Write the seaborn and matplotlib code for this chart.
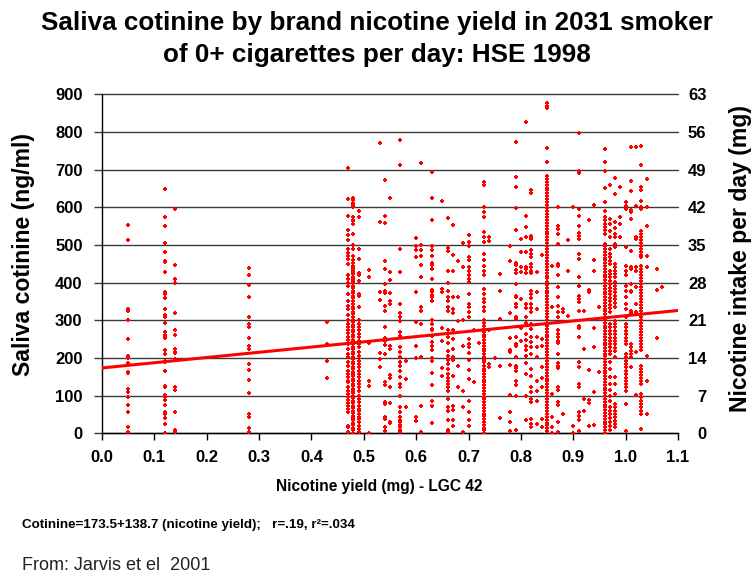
import matplotlib
matplotlib.use("Agg")
import matplotlib.pyplot as plt
import seaborn as sns
import numpy as np
import pandas as pd

# Saliva cotinine (ng/ml) for smokers, grouped by brand nicotine yield (mg)
c005 = [552, 513, 330, 326, 302, 250, 205, 201, 186, 163, 160, 117, 110, 97, 75, 57, 18, 3]
c012 = [649, 573, 551, 506, 481, 458, 455, 427, 375, 371, 358, 329, 314, 309, 292, 270, 261, 257,
        252, 221, 210, 192, 188, 166, 126, 122, 102, 97, 88, 75, 56, 52, 40, 24, 2]
c014 = [596, 446, 410, 400, 319, 273, 260, 223, 217, 212, 198, 122, 115, 57, 9, 4]
c028 = [440, 420, 394, 361, 309, 291, 281, 252, 232, 223, 185, 167, 141, 108, 50, 44, 13, 4]
c043 = [296, 236, 193, 146]
c047 = [704, 621, 578, 540, 527, 512, 490, 480, 470, 463, 450, 420, 410, 400, 392, 370, 352, 339,
        330, 315, 300, 290, 281, 273, 265, 255, 248, 237, 224, 211, 202, 188, 180, 166, 158, 149,
        140, 135, 122, 113, 104, 96, 88, 80, 73, 65, 56, 20, 16, 3]
c048 = [624, 619, 612, 605, 600, 575, 567, 563, 556, 530, 500, 490, 470, 460, 452, 445, 440, 434,
        428, 422, 415, 410, 404, 398, 392, 385, 378, 372, 365, 358, 350, 343, 336, 330, 322, 316,
        309, 301, 295, 288, 281, 275, 268, 262, 255, 249, 242, 236, 229, 223, 216, 210, 203, 197,
        190, 184, 177, 171, 164, 158, 151, 145, 138, 131, 125, 118, 112, 106, 99, 93, 86, 80, 73,
        67, 60, 54, 47, 41, 34, 28, 21, 15, 8, 2]
c049 = [590, 575, 490, 463, 425, 420, 405, 370, 365, 335, 300, 290, 281, 273, 264, 255, 246, 237,
        228, 215, 206, 193, 184, 175, 166, 158, 149, 140, 131, 122, 113, 100, 91, 82, 73, 64, 60,
        51, 44, 38, 29, 20, 12, 3]
c051 = [434, 415, 240, 138, 125, 0]
c053 = [770, 561, 374, 354, 214, 196, 177]
c054 = [673, 578, 557, 457, 436, 396, 377, 372, 339, 326, 281, 253, 246, 235, 211, 135, 127, 82,
        78, 44, 38, 16, 7]
c055 = [626, 427, 407, 372, 350, 343, 233, 224, 156, 147, 122, 80, 29, 27]
c057 = [780, 712, 490, 429, 342, 319, 308, 299, 268, 259, 228, 215, 202, 188, 180, 165, 150, 131,
        122, 100, 71, 56, 42, 35, 29, 23, 16, 9, 3]
c058 = [191, 144, 71]
c060 = [518, 496, 487, 469, 374, 296, 233, 200, 44, 32]
c061 = [717, 501, 487, 472, 448, 414, 335, 326, 290, 202, 73, 3]
c063 = [695, 625, 566, 498, 487, 470, 451, 448, 436, 410, 381, 374, 368, 361, 350, 301, 290, 277,
        273, 259, 242, 233, 221, 199, 191, 159, 127, 87, 73, 27]
c065 = [618, 383, 374, 280, 244, 173, 151]
c066 = [571, 492, 485, 430, 398, 379, 363, 350, 336, 324, 273, 255, 239, 219, 206, 195, 184, 171,
        158, 147, 138, 131, 122, 113, 91, 69, 58, 34, 9, 3]
c067 = [553, 473, 430, 363, 330, 319, 273, 250, 224, 202, 195, 153, 73, 62, 34, 20]
c068 = [458, 363, 299, 180, 122]
c069 = [504, 442, 301, 233, 113, 69, 3]
c070 = [527, 507, 498, 469, 460, 442, 432, 420, 410, 401, 370, 343, 335, 321, 310, 250, 237, 228,
        212, 195, 168, 144, 87, 56, 34, 20]
c071 = [273, 135]
c072 = [239]
c073 = [668, 658, 602, 587, 573, 534, 520, 507, 476, 460, 445, 432, 419, 383, 370, 357, 348, 336,
        326, 300, 292, 285, 278, 270, 262, 255, 248, 240, 232, 225, 218, 210, 202, 195, 188, 180,
        172, 165, 158, 150, 142, 135, 127, 120, 112, 105, 97, 90, 82, 75, 67, 60, 52, 45, 37, 30,
        22, 15, 8, 2]
c074 = [520, 510, 274, 184, 177]
c075 = [200]
c076 = [423, 379, 304, 180, 40]
c078 = [496, 458, 319, 253, 221, 215, 182, 102, 56, 29, 7]
c079 = [774, 681, 655, 597, 540, 451, 447, 434, 425, 396, 365, 361, 343, 336, 310, 304, 255, 237,
        233, 202, 180, 173, 166, 140, 127, 100, 9]
c080 = [516, 481, 441, 427, 357, 280, 246]
c081 = [827, 578, 547, 522, 481, 441, 436, 425, 343, 332, 308, 292, 264, 248, 233, 221, 206, 186,
        158, 100, 35]
c082 = [646, 637, 525, 520, 516, 487, 476, 467, 450, 441, 432, 425, 379, 370, 359, 343, 333, 321,
        290, 277, 255, 242, 228, 211, 171, 153, 122, 109, 91, 82, 38, 25, 16]
c083 = [429, 374, 330, 255, 228, 202, 140, 112, 87, 25]
c084 = [474, 250, 233, 177, 147, 122, 38, 16]
c085 = [876, 870, 864, 757, 719, 684, 676, 668, 660, 652, 645, 637, 629, 621, 613, 606, 598, 590,
        582, 574, 567, 559, 551, 543, 535, 528, 520, 512, 504, 496, 489, 481, 473, 465, 457, 450,
        442, 434, 426, 418, 411, 403, 395, 387, 379, 372, 364, 356, 348, 340, 333, 325, 317, 309,
        301, 294, 286, 278, 270, 262, 255, 247, 239, 231, 223, 216, 208, 200, 192, 184, 177, 169,
        161, 153, 145, 138, 130, 122, 114, 106, 99, 91, 83, 75, 67, 60, 52, 44, 36, 28, 21, 13, 5]
c086 = [445, 336, 104, 42, 16, 0]
c087 = [600, 551, 542, 529, 503, 450, 443, 420, 388, 363, 339, 321, 308, 273, 264, 255, 246, 239,
        211, 186, 180, 173, 122, 115, 82, 76, 29, 3]
c088 = [330, 321, 51]
c089 = [512, 432, 312]
c090 = [600, 20, 0]
c091 = [796, 697, 690, 596, 578, 551, 531, 524, 516, 476, 463, 414, 392, 365, 357, 348, 326, 286,
        280, 255, 188, 177, 131, 124, 56, 47, 34, 7]
c092 = [326, 224, 91, 60]
c093 = [565, 381, 374, 168, 88, 80, 20]
c094 = [607, 460, 432, 280, 228, 109, 22]
c095 = [335, 162]
c096 = [755, 719, 697, 651, 615, 591, 573, 565, 556, 548, 540, 529, 503, 496, 489, 481, 474, 466,
        459, 451, 444, 436, 429, 421, 414, 406, 399, 391, 384, 376, 369, 361, 354, 346, 339, 331,
        324, 316, 309, 301, 294, 286, 279, 271, 264, 256, 249, 241, 234, 226, 219, 211, 204, 196,
        189, 181, 174, 166, 159, 151, 144, 136, 129, 121, 114, 106, 99, 91, 84, 76, 69, 61, 54,
        46, 39, 31, 24, 16, 9, 2]
c097 = [658, 569, 556, 538, 520, 489, 476, 467, 458, 449, 432, 423, 414, 405, 396, 387, 378, 369,
        360, 350, 341, 332, 323, 290, 281, 272, 263, 254, 245, 236, 228, 219, 210, 190, 170, 150,
        130, 115, 100, 85, 70, 60, 50, 40, 30, 20, 10]
c098 = [678, 634, 560, 546, 529, 520, 503, 494, 450, 441, 432, 423, 414, 401, 392, 383, 374, 365,
        356, 347, 335, 299, 290, 281, 272, 263, 254, 245, 236, 227, 219, 202, 149, 131, 104, 78,
        69, 60, 51, 42, 33, 24, 16]
c099 = [653, 573, 556, 520]
c100 = [613, 604, 596, 494, 445, 432, 419, 392, 379, 361, 343, 330, 308, 290, 281, 272, 263, 254,
        246, 237, 211, 202, 193, 184, 175, 166, 157, 148, 139, 130, 122, 113, 78, 7]
c101 = [761, 671, 644, 593, 587, 569, 485, 441, 436, 396, 379, 374, 326, 319, 237, 228, 219, 211,
        202, 177]
c102 = [761, 604, 520, 516, 441, 432, 388, 343, 321, 215, 103]
c103 = [764, 711, 653, 646, 616, 602, 596, 538, 530, 522, 514, 506, 498, 490, 482, 474, 467, 445,
        437, 429, 421, 413, 405, 397, 389, 381, 373, 365, 357, 349, 341, 333, 325, 317, 309, 301,
        293, 285, 277, 269, 261, 253, 245, 237, 229, 221, 180, 172, 164, 156, 148, 140, 131, 105,
        96, 87, 78, 69, 60, 51, 12]
c104 = [675, 600, 551, 472, 441, 206, 140, 51]
c106 = [436, 381, 253]
c107 = [388]

yields = [0.05, 0.12, 0.14, 0.28, 0.43, 0.47, 0.48, 0.49, 0.51, 0.53, 0.54, 0.55, 0.57, 0.58,
          0.60, 0.61, 0.63, 0.65, 0.66, 0.67, 0.68, 0.69, 0.70, 0.71, 0.72, 0.73, 0.74, 0.75,
          0.76, 0.78, 0.79, 0.80, 0.81, 0.82, 0.83, 0.84, 0.85, 0.86, 0.87, 0.88, 0.89, 0.90,
          0.91, 0.92, 0.93, 0.94, 0.95, 0.96, 0.97, 0.98, 0.99, 1.00, 1.01, 1.02, 1.03, 1.04,
          1.06, 1.07]
columns = [c005, c012, c014, c028, c043, c047, c048, c049, c051, c053, c054, c055, c057, c058,
           c060, c061, c063, c065, c066, c067, c068, c069, c070, c071, c072, c073, c074, c075,
           c076, c078, c079, c080, c081, c082, c083, c084, c085, c086, c087, c088, c089, c090,
           c091, c092, c093, c094, c095, c096, c097, c098, c099, c100, c101, c102, c103, c104,
           c106, c107]

# Fitted regression: Cotinine = 173.5 + 138.7 * yield
intercept = 173.5
slope = 138.7

left_ticks = [0, 100, 200, 300, 400, 500, 600, 700, 800, 900]
right_ticks = [0, 7, 14, 21, 28, 35, 42, 49, 56, 63]
x_ticks = [0.0, 0.1, 0.2, 0.3, 0.4, 0.5, 0.6, 0.7, 0.8, 0.9, 1.0, 1.1]

df = pd.DataFrame({
    "yield": np.concatenate([[x] * len(v) for x, v in zip(yields, columns)]),
    "cotinine": np.concatenate(columns),
})
fit = pd.DataFrame({"yield": [0.0, 1.1]})
fit["cotinine"] = intercept + slope * fit["yield"]

sns.set_theme(style="white")
plt.rcParams["font.family"] = ["Liberation Sans", "DejaVu Sans"]
plt.rcParams["text.color"] = "black"
plt.rcParams["xtick.color"] = "black"
plt.rcParams["ytick.color"] = "black"

fig = plt.figure(figsize=(7.53, 5.74), dpi=100)
ax = fig.add_axes([102 / 753, 1 - 433.3 / 574, 576 / 753, 339 / 574])

sns.scatterplot(data=df, x="yield", y="cotinine", ax=ax, color="#ff0000", marker="P",
                s=11, linewidth=0, zorder=3, legend=False)
sns.lineplot(data=fit, x="yield", y="cotinine", ax=ax, color="#ff0000", lw=2.2,
             zorder=4, legend=False)

ax.set_xlim(0, 1.1)
ax.set_ylim(0, 900)
ax.set_xticks(x_ticks)
ax.set_xticklabels([f"{t:.1f}" for t in x_ticks])
ax.set_yticks(left_ticks)
ax.set_yticklabels([str(t) for t in left_ticks])
ax.set_xlabel("")
ax.set_ylabel("")
for t in left_ticks:
    ax.axhline(t, color="#3a3a3a", lw=1.0, zorder=1, clip_on=False)

for side in ["top", "right"]:
    ax.spines[side].set_visible(False)
ax.spines["left"].set_color("black")
ax.spines["bottom"].set_color("black")
ax.spines["left"].set_linewidth(1.0)
ax.spines["bottom"].set_linewidth(1.0)
ax.tick_params(axis="y", direction="out", length=6, width=1, color="#3a3a3a", pad=8,
               labelsize=12, left=True, labelcolor="black")
ax.tick_params(axis="x", direction="out", length=5, width=1, color="black", pad=7,
               labelsize=12, bottom=True, labelcolor="black")
for lab in ax.get_xticklabels() + ax.get_yticklabels():
    lab.set_fontweight("bold")

ax2 = ax.twinx()
ax2.set_ylim(0, 63)
ax2.set_yticks(right_ticks)
ax2.set_yticklabels([str(t) for t in right_ticks])
for side in ["top", "right", "left", "bottom"]:
    ax2.spines[side].set_visible(False)
ax2.tick_params(axis="y", length=0, pad=20.5, labelsize=12, right=True, labelcolor="black")
for lab in ax2.get_yticklabels():
    lab.set_fontweight("bold")
    lab.set_horizontalalignment("right")
ax2.grid(False)

fig.text(0.5, 1 - 23 / 574, "Saliva cotinine by brand nicotine yield in 2031 smoker",
         ha="center", va="center", fontsize=18.8, fontweight="bold", color="black")
fig.text(0.5, 1 - 55 / 574, "of 0+ cigarettes per day: HSE 1998",
         ha="center", va="center", fontsize=18.8, fontweight="bold", color="black")
fig.text(24 / 753, 1 - 255 / 574, "Saliva cotinine (ng/ml)", rotation=90,
         ha="center", va="center", fontsize=16.6, fontweight="bold", color="black")
fig.text(741 / 753, 1 - 259 / 574, "Nicotine intake per day (mg)", rotation=90,
         ha="center", va="center", fontsize=16.6, fontweight="bold", color="black")
fig.text(379 / 753, 1 - 487 / 574, "Nicotine yield (mg) - LGC 42",
         ha="center", va="center", fontsize=11.2, fontweight="bold", color="black")
fig.text(22 / 753, 1 - 525 / 574, "Cotinine=173.5+138.7 (nicotine yield);   r=.19, r\u00b2=.034",
         ha="left", va="center", fontsize=9.6, fontweight="bold", color="black")
fig.text(22 / 753, 1 - 566 / 574, "From: Jarvis et el  2001",
         ha="left", va="center", fontsize=13, color="#222222")

fig.savefig("out.png", dpi=100)
